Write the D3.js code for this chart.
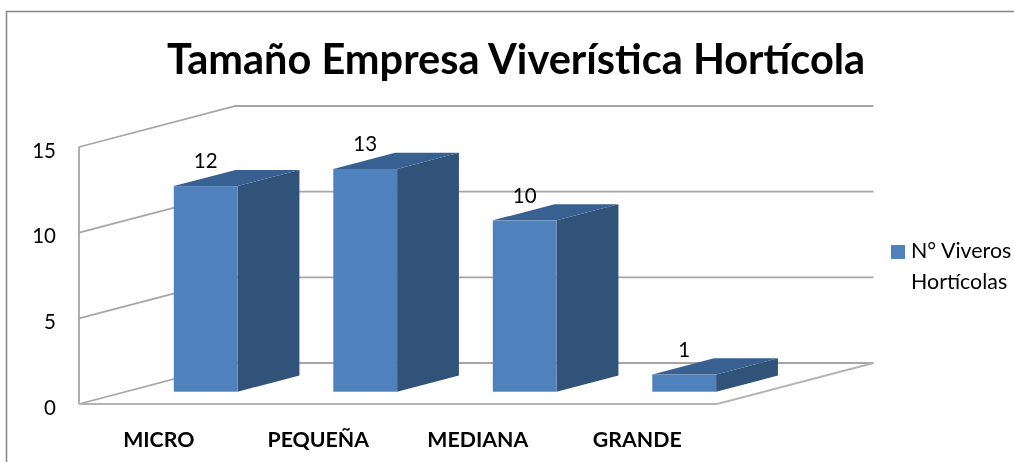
<!DOCTYPE html>
<html>
<head>
<meta charset="utf-8">
<script src="https://cdn.jsdelivr.net/npm/d3@7"></script>
<style>
html, body { margin: 0; padding: 0; background: #fff; }
svg { display: block; font-family: Lato, "Open Sans", sans-serif; }
</style>
</head>
<body>
<svg id="chart" width="1014" height="462"></svg>
<script>
// chart data
var categories = ["MICRO", "PEQUEÑA", "MEDIANA", "GRANDE"];
var viveros = [12, 13, 10, 1];
var yTicks = [0, 5, 10, 15];
var titleText = "Tamaño Empresa Viverística Hortícola";
var legendLines = ["N° Viveros", "Hortícolas"];

var root = d3.select("#chart");

// the reference is a soft, upscaled screenshot
root.append("defs").append("filter")
	.attr("id", "soft")
	.attr("x", 0).attr("y", 0)
	.attr("width", 1).attr("height", 1)
	.append("feGaussianBlur")
	.attr("stdDeviation", 0.45);

var svg = root.append("g").attr("filter", "url(#soft)");

svg.append("rect")
	.attr("width", 1014)
	.attr("height", 462)
	.attr("fill", "#fff");

var gridColor = "#a6a6a6";
var frontColor = "#4f81bd";
var sideColor = "#325379";
var topColor = "#386190";

// outer frame, cut off by the right and bottom edges of the picture
svg.append("path")
	.attr("d", "M6.5,462V11.5H1014")
	.attr("fill", "none")
	.attr("stroke", "#858585")
	.attr("stroke-width", 1.5);

svg.append("text")
	.attr("x", 516)
	.attr("y", 74)
	.attr("text-anchor", "middle")
	.attr("font-size", 41.5)
	.attr("font-weight", 700)
	.attr("fill", "#000")
	.text(titleText);

// scales for the front plane of the box
var x = d3.scaleBand()
	.domain(categories)
	.range([79, 717])
	.paddingInner(0.6)
	.paddingOuter(0.3);

var y = d3.scaleLinear()
	.domain([0, 15])
	.range([404, 147]);

// oblique projection, depth runs from 0 (front) to 1 (back wall)
var depthX = 156.5;
var depthY = 41;
var barDepthStart = 0.3;
var barDepthEnd = 0.695;

function px(xVal, depth) { return xVal + depth * depthX; }
function py(value, depth) { return y(value) - depth * depthY; }
function pts(list) {
	return list.map(function (p) { return p[0] + "," + p[1]; }).join(" ");
}

//walls and floor
var walls = svg.append("g")
	.attr("fill", "none")
	.attr("stroke", gridColor)
	.attr("stroke-width", 1.8);

yTicks.forEach(function (t) {
	walls.append("polyline")
		.attr("points", pts([
			[px(79, 0), py(t, 0)],
			[px(79, 1), py(t, 1)],
			[px(717, 1), py(t, 1)]
		]));
});

walls.append("line")
	.attr("x1", 79).attr("x2", 79)
	.attr("y1", y(15)).attr("y2", y(0));

walls.append("polyline")
	.attr("points", pts([
		[px(79, 0), py(0, 0)],
		[px(717, 0), py(0, 0)],
		[px(717, 1), py(0, 1)]
	]))
	.attr("stroke", "#b4b4b4")
	.attr("stroke-width", 2);

//bars
var bars = svg.append("g")
	.selectAll("g")
	.data(viveros)
	.join("g");

// side face
bars.append("polygon")
	.attr("fill", sideColor)
	.attr("points", function (d, i) {
		var x1 = x(categories[i]) + x.bandwidth();
		return pts([
			[px(x1, barDepthStart), py(0, barDepthStart)],
			[px(x1, barDepthEnd), py(0, barDepthEnd)],
			[px(x1, barDepthEnd), py(d, barDepthEnd)],
			[px(x1, barDepthStart), py(d, barDepthStart)]
		]);
	});

// top face
bars.append("polygon")
	.attr("fill", topColor)
	.attr("points", function (d, i) {
		var x0 = x(categories[i]);
		var x1 = x0 + x.bandwidth();
		return pts([
			[px(x0, barDepthStart), py(d, barDepthStart)],
			[px(x1, barDepthStart), py(d, barDepthStart)],
			[px(x1, barDepthEnd), py(d, barDepthEnd)],
			[px(x0, barDepthEnd), py(d, barDepthEnd)]
		]);
	});

// front face
bars.append("rect")
	.attr("fill", frontColor)
	.attr("x", function (d, i) { return px(x(categories[i]), barDepthStart); })
	.attr("y", function (d) { return py(d, barDepthStart); })
	.attr("width", x.bandwidth())
	.attr("height", function (d) { return y(0) - y(d); });

// value labels
bars.append("text")
	.attr("x", function (d, i) { return px(x(categories[i]) + x.bandwidth() / 2, barDepthStart); })
	.attr("y", function (d) { return py(d, barDepthEnd) - 1.5; })
	.attr("text-anchor", "middle")
	.attr("font-size", 20.5)
	.attr("fill", "#000")
	.text(function (d) { return d; });

//axes
var yAxis = svg.append("g")
	.attr("transform", "translate(56,0)")
	.call(d3.axisLeft(y).tickValues(yTicks).tickSize(0).tickPadding(0));
yAxis.select(".domain").remove();
yAxis.selectAll("text")
	.attr("font-family", "Lato")
	.attr("font-size", 20.5)
	.attr("fill", "#000")
	.attr("dy", 10);

var xAxis = svg.append("g")
	.attr("transform", "translate(0,447)")
	.call(d3.axisBottom(x).tickSize(0).tickPadding(0));
xAxis.select(".domain").remove();
xAxis.selectAll("text")
	.attr("font-family", "Lato")
	.attr("font-size", 21.3)
	.attr("font-weight", 700)
	.attr("fill", "#000")
	.attr("y", 0)
	.attr("dy", 0);

//legend
var legend = svg.append("g");
legend.append("rect")
	.attr("x", 891)
	.attr("y", 245)
	.attr("width", 14)
	.attr("height", 14)
	.attr("fill", frontColor);
legend.selectAll("text")
	.data(legendLines)
	.join("text")
	.attr("x", 911)
	.attr("y", function (d, i) { return 258 + i * 31; })
	.attr("font-size", 21.4)
	.attr("fill", "#000")
	.text(function (d) { return d; });
</script>
</body>
</html>
